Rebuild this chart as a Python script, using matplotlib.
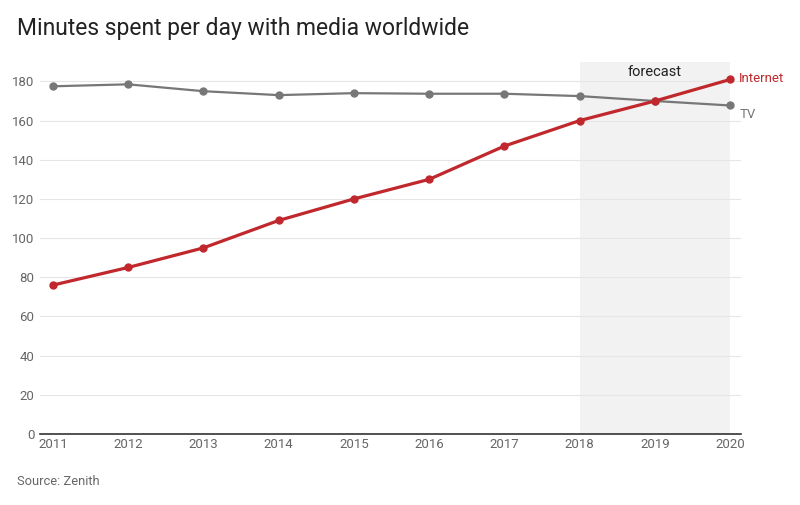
import matplotlib
matplotlib.use("Agg")
import matplotlib.pyplot as plt

plt.rcParams["font.family"] = ["Roboto", "DejaVu Sans"]

years = [2011, 2012, 2013, 2014, 2015, 2016, 2017, 2018, 2019, 2020]
internet = [76, 85, 95, 109, 120, 130, 147, 160, 170, 181]
tv = [177.5, 178.5, 175, 173, 174, 173.7, 173.7, 172.5, 170, 167.7]
y_ticks = [0, 20, 40, 60, 80, 100, 120, 140, 160, 180]
forecast_start, forecast_end = 2018, 2020

red = "#c0282d"
grey = "#777777"
tick_col = "#666666"

fig = plt.figure(figsize=(8, 5.05), dpi=100)
ax = fig.add_axes([0.05, 0.1406, 0.876, 0.737])

ax.axvspan(forecast_start, forecast_end, color="#f2f2f2", zorder=0, lw=0)
ax.text((forecast_start + forecast_end) / 2, 185, "forecast", ha="center",
        va="center", fontsize=10.5, color="#222222")

ax.plot(years, tv, color=grey, lw=1.6, marker="o", ms=5, zorder=3)
ax.plot(years, internet, color=red, lw=2.3, marker="o", ms=5, zorder=4)

ax.text(years[-1] + 0.12, internet[-1] + 0.3, "Internet", color=red,
        fontsize=9.5, va="center", ha="left")
ax.text(years[-1] + 0.12, tv[-1] - 4.5, "TV", color=grey,
        fontsize=9.5, va="center", ha="left")

ax.set_xlim(2010.83, 2020.14)
ax.set_ylim(0, 190)
ax.set_yticks(y_ticks)
ax.set_xticks(years)
ax.grid(axis="y", color="#e6e6e6", lw=0.8, zorder=1)
ax.set_axisbelow(True)

for s in ["top", "right", "left"]:
    ax.spines[s].set_visible(False)
ax.spines["bottom"].set_color("#333333")
ax.spines["bottom"].set_linewidth(1.2)
ax.tick_params(axis="both", length=0, colors=tick_col, labelsize=9.5)
ax.tick_params(axis="x", pad=3)
ax.tick_params(axis="y", pad=4)

fig.text(0.021, 0.943, "Minutes spent per day with media worldwide",
         fontsize=16.5, color="#222222", va="center", ha="left")
fig.text(0.021, 0.047, "Source: Zenith", fontsize=9.3, color=tick_col,
         va="center", ha="left")

fig.savefig("out.png", dpi=100, facecolor="white")
